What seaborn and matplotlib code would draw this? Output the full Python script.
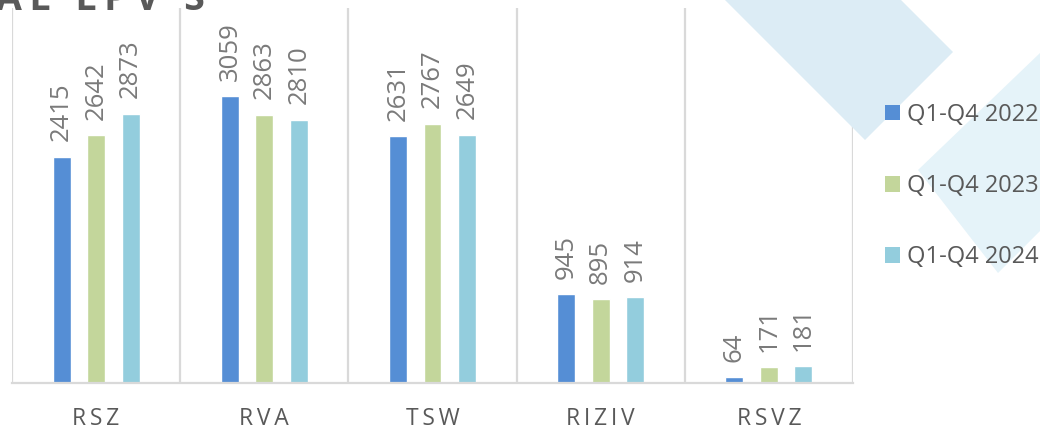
import matplotlib
matplotlib.use("Agg")
import matplotlib.pyplot as plt
from matplotlib.patches import Polygon
import pandas as pd
import seaborn as sns

# values
categories = ['RSZ', 'RVA', 'TSW', 'RIZIV', 'RSVZ']
periods = ['Q1-Q4 2022', 'Q1-Q4 2023', 'Q1-Q4 2024']
q2022 = [2415, 3059, 2631, 945, 64]
q2023 = [2642, 2863, 2767, 895, 171]
q2024 = [2873, 2810, 2649, 914, 181]
colors = ['#558ED5', '#C3D69B', '#93CDDD']

rows = []
for period, vals in zip(periods, [q2022, q2023, q2024]):
    for cat, v in zip(categories, vals):
        rows.append({'cat': cat, 'period': period, 'value': v})
df = pd.DataFrame(rows)

sns.set_theme(style="white")
plt.rcParams['font.family'] = ['Open Sans', 'DejaVu Sans']

W, H = 1040, 433
fig = plt.figure(figsize=(W / 100, H / 100), dpi=100)
fig.patch.set_facecolor('white')


def px(x, y):
    return (x / W, 1 - y / H)


# decorative background diamonds
shape_a = [px(865, 140), px(953, 52), px(753, -148), px(665, -60)]
shape_b = [px(1040, 53), px(918, 170), px(998, 273), px(1100, 171)]
fig.patches.append(Polygon(shape_a, closed=True, transform=fig.transFigure,
                           facecolor='#dcecf5', edgecolor='none', zorder=0))
fig.patches.append(Polygon(shape_b, closed=True, transform=fig.transFigure,
                           facecolor='#e5f3f9', edgecolor='none', zorder=0))

ax = fig.add_axes([12 / W, 1 - 383 / H, (853 - 12) / W, (383 - 8) / H])
ax.set_facecolor('none')

sns.barplot(data=df, x='cat', y='value', hue='period', palette=colors,
            width=0.615, gap=0.48, ax=ax, legend=False, saturation=1)

for cont in ax.containers:
    ax.bar_label(cont, rotation=90, padding=11, fontsize=18.5, color='#7a7a7a')

ax.set_ylim(0, 4000)
ax.set_xlim(-0.5, len(categories) - 0.5)
ax.set_yticks([])
ax.set_xlabel('')
ax.set_ylabel('')
ax.set_xticks(range(len(categories)))
ax.set_xticklabels(['\u2009'.join(c) for c in categories], fontsize=16.5, color='#595959')
ax.tick_params(axis='x', length=0, pad=17)
for b in [i - 0.5 for i in range(len(categories) + 1)]:
    ax.axvline(b, color='#d9d9d9', lw=1.6, zorder=0)
for s in ['top', 'right', 'left']:
    ax.spines[s].set_visible(False)
ax.spines['bottom'].set_color('#d9d9d9')
ax.spines['bottom'].set_linewidth(1.6)

handles = [plt.Rectangle((0, 0), 1, 1, facecolor=c, edgecolor='none') for c in colors]
fig.legend(handles, periods, loc='center left', bbox_to_anchor=px(885, 186),
           frameon=False, fontsize=17, labelcolor='#595959', handlelength=0.65,
           handleheight=0.65, handletextpad=0.3, labelspacing=2.0,
           borderpad=0, borderaxespad=0)

# cropped slide title at the top edge
fig.text(-0.004, 1 - 10 / H, '\u2009'.join('AL LPV S'), fontsize=27, fontweight='bold',
         color='#595959', ha='left', va='baseline')

fig.savefig('out.png', dpi=100, facecolor='white')
